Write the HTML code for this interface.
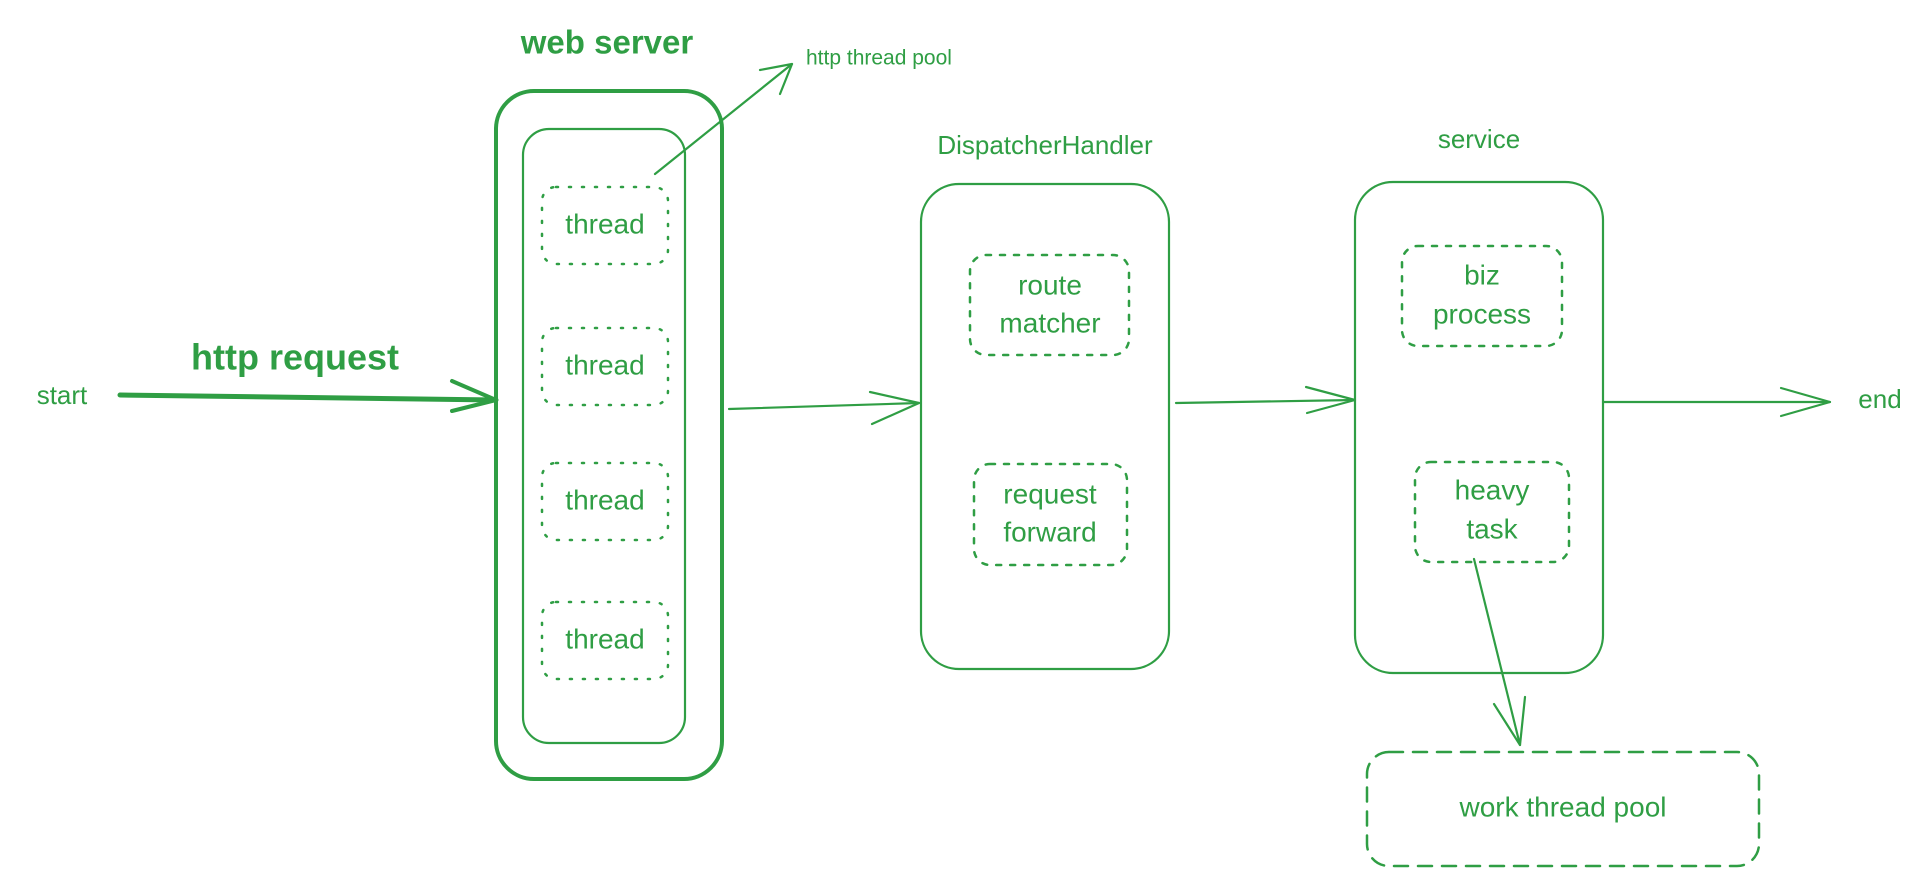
<!DOCTYPE html>
<html><head><meta charset="utf-8"><style>
html,body{margin:0;padding:0;background:#fff;}
svg{display:block;}
text{font-family:"Liberation Sans",sans-serif;fill:#2f9e44;text-anchor:middle;dominant-baseline:middle;}
</style></head><body>
<svg width="1926" height="887" viewBox="0 0 1926 887" xmlns="http://www.w3.org/2000/svg">
<g fill="none" stroke="#2f9e44" stroke-linecap="round" stroke-linejoin="round">
<rect x="496" y="91" width="226" height="688" rx="38" stroke-width="4"/>
<rect x="523" y="129" width="162" height="614" rx="26" stroke-width="2.2"/>
<g stroke-width="2.5" stroke-dasharray="2 11">
<rect x="542" y="187" width="126" height="77" rx="14"/>
<rect x="542" y="328" width="126" height="77" rx="14"/>
<rect x="542" y="463" width="126" height="77" rx="14"/>
<rect x="542" y="602" width="126" height="77" rx="14"/>
</g>
<rect x="921" y="184" width="248" height="485" rx="38" stroke-width="2.2"/>
<g stroke-width="2.5" stroke-dasharray="5 9">
<rect x="970" y="255" width="159" height="100" rx="16"/>
<rect x="974" y="464" width="153" height="101" rx="16"/>
</g>
<rect x="1355" y="182" width="248" height="491" rx="38" stroke-width="2.2"/>
<g stroke-width="2.5" stroke-dasharray="5 9">
<rect x="1402" y="246" width="160" height="100" rx="16"/>
<rect x="1415" y="462" width="154" height="100" rx="16"/>
</g>
<rect x="1367" y="752" width="392" height="114" rx="22" stroke-width="2.5" stroke-dasharray="14 10"/>
<path d="M120 395 L496 400" stroke-width="5"/>
<path d="M452 381 L496 400 L452 411" stroke-width="4"/>
<path d="M729 409 L919 403" stroke-width="2.2"/>
<path d="M870 392 L919 403 L872 424" stroke-width="2.2"/>
<path d="M1176 403 L1355 400" stroke-width="2.2"/>
<path d="M1306 387 L1355 400 L1307 413" stroke-width="2.2"/>
<path d="M1603 402 L1830 402" stroke-width="2.2"/>
<path d="M1781 388 L1830 402 L1781 416" stroke-width="2.2"/>
<path d="M655 174 L792 64" stroke-width="2.2"/>
<path d="M760 70 L792 64 L780 94" stroke-width="2.2"/>
<path d="M1474 559 L1520 745" stroke-width="2.2"/>
<path d="M1494 704 L1520 745 L1525 697" stroke-width="2.2"/>
</g>
<text x="607" y="45" font-size="33" font-weight="bold">web server</text>
<text x="806" y="59" font-size="21" style="text-anchor:start">http thread pool</text>
<text x="605" y="226" font-size="28">thread</text>
<text x="605" y="367" font-size="28">thread</text>
<text x="605" y="502" font-size="28">thread</text>
<text x="605" y="641" font-size="28">thread</text>
<text x="62" y="397" font-size="26">start</text>
<text x="295" y="360" font-size="36" font-weight="bold">http request</text>
<text x="1045" y="147" font-size="26">DispatcherHandler</text>
<text x="1050" y="287" font-size="28">route</text>
<text x="1050" y="325" font-size="28">matcher</text>
<text x="1050" y="496" font-size="28">request</text>
<text x="1050" y="534" font-size="28">forward</text>
<text x="1479" y="141" font-size="26">service</text>
<text x="1482" y="277" font-size="28">biz</text>
<text x="1482" y="316" font-size="28">process</text>
<text x="1492" y="492" font-size="28">heavy</text>
<text x="1492" y="531" font-size="28">task</text>
<text x="1880" y="401" font-size="26">end</text>
<text x="1563" y="809" font-size="28">work thread pool</text>
</svg>
</body></html>
